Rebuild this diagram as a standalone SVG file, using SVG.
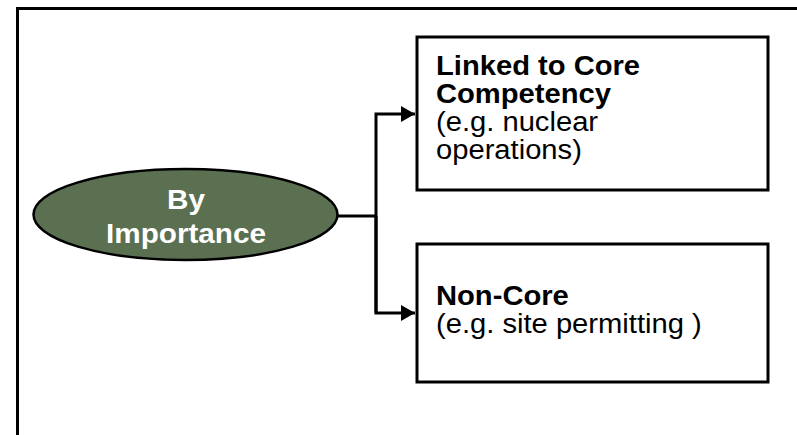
<svg xmlns="http://www.w3.org/2000/svg" width="797" height="435" viewBox="0 0 797 435">
<defs>
<style>
.frame{fill:none;stroke:#000;stroke-width:3}
.box{fill:#fff;stroke:#000;stroke-width:3}
.conn{fill:none;stroke:#000;stroke-width:3}
.b{font-family:"Liberation Sans",Arial,sans-serif;font-weight:bold;font-size:27px;fill:#000}
.r{font-family:"Liberation Sans",Arial,sans-serif;font-size:27px;fill:#000}
.w{font-family:"Liberation Sans",Arial,sans-serif;font-weight:bold;font-size:27px;fill:#fff;text-anchor:middle}
</style>
<marker id="arr" markerWidth="14" markerHeight="16" refX="14" refY="8" orient="auto" markerUnits="userSpaceOnUse">
<path d="M0,0 L14,8 L0,16 Z" fill="#000"/>
</marker>
</defs>
<rect width="797" height="435" fill="#fff"/>
<path class="frame" d="M17.5,440 V8.5 H800"/>
<g id="connectors">
<path class="conn" d="M338,216 H376"/>
<path class="conn" d="M376,313 V114 H415" marker-end="url(#arr)"/>
<path class="conn" d="M376,216 V313 H415" marker-end="url(#arr)"/>
</g>
<g id="node-importance">
<ellipse cx="185.5" cy="214.5" rx="152" ry="45.5" fill="#5b6f51" stroke="#000" stroke-width="2.5"/>
<g transform="translate(186,0) scale(1.1,1)">
<text class="w" x="0" y="209">By</text>
<text class="w" x="0" y="243">Importance</text>
</g>
</g>
<g id="node-core">
<rect class="box" x="417" y="37" width="351" height="153"/>
<g transform="translate(436,0) scale(1.08,1)">
<text class="b" x="0" y="75">Linked to Core</text>
<text class="b" x="0" y="103">Competency</text>
<text class="r" x="0" y="131">(e.g. nuclear</text>
<text class="r" x="0" y="159">operations)</text>
</g>
</g>
<g id="node-noncore">
<rect class="box" x="417" y="244" width="351" height="138"/>
<g transform="translate(436,0) scale(1.08,1)">
<text class="b" x="0" y="305">Non-Core</text>
<text class="r" x="0" y="333">(e.g. site permitting )</text>
</g>
</g>
</svg>
